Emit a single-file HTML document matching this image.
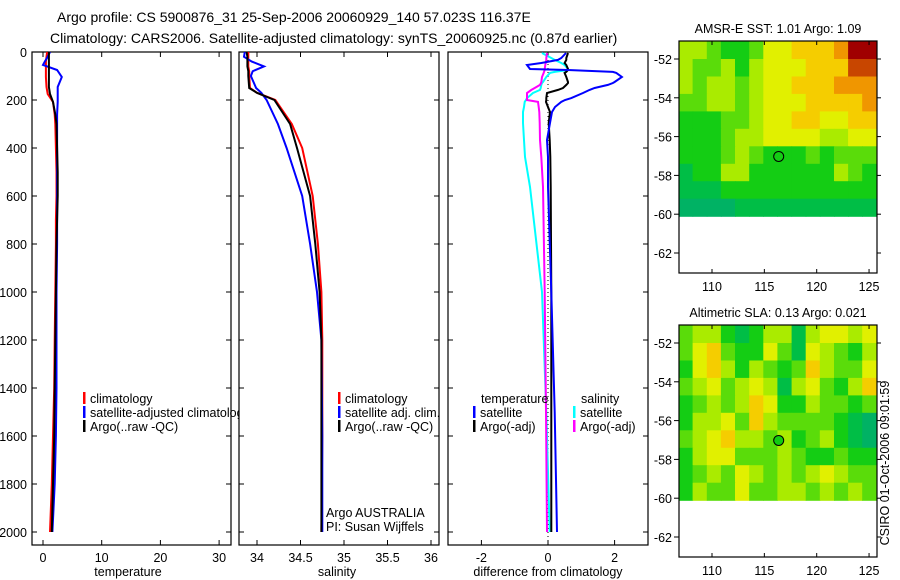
<!DOCTYPE html>
<html><head><meta charset="utf-8">
<style>
html,body{margin:0;padding:0;background:#fff;}
svg{display:block;font-family:"Liberation Sans",sans-serif;}
text{font-size:12.5px;fill:#000;}
</style></head>
<body>
<svg id="chart" width="900" height="580" viewBox="0 0 900 580" xmlns="http://www.w3.org/2000/svg">
<defs><clipPath id="clipT"><rect x="32" y="52" width="207" height="493"/></clipPath></defs>
<text x="57" y="22" style="font-size:14px">Argo profile: CS 5900876_31 25-Sep-2006 20060929_140 57.023S 116.37E</text>
<text x="50" y="43" style="font-size:14px">Climatology: CARS2006. Satellite-adjusted climatology: synTS_20060925.nc (0.87d earlier)</text>
<g id="g"></g>
</svg>
<script>
// ---- data ----
const tDepth = [0,20,40,54,75,104,146,175,208,260,300,400,500,600,700,800,1000,1200,1400,1600,1800,2000];
const tClim  = [0.7,0.6,0.5,0.5,0.5,0.5,0.6,0.8,1.7,2.0,2.1,2.2,2.3,2.3,2.2,2.2,2.1,2.0,1.9,1.7,1.5,1.2];
const tSat   = [1.2,0.8,0.3,0.0,2.4,3.2,2.5,2.5,2.5,2.4,2.4,2.4,2.4,2.4,2.4,2.4,2.3,2.3,2.3,2.2,2.0,1.6];
const tArgo  = [1.0,1.0,1.0,1.0,1.0,1.0,1.0,1.2,1.7,2.1,2.3,2.4,2.5,2.5,2.4,2.3,2.2,2.1,2.0,1.9,1.7,1.5];
const sDepth = [0,20,40,60,80,100,150,170,200,300,400,600,800,1000,1200,1600,2000];
const sClim  = [33.90,33.90,33.90,33.90,33.91,33.91,33.92,34.00,34.21,34.40,34.52,34.64,34.70,34.74,34.75,34.75,34.74];
const sSat   = [33.86,33.85,33.94,34.08,33.95,33.93,33.99,34.05,34.11,34.24,34.34,34.52,34.61,34.69,34.74,34.75,34.75];
const sArgo  = [33.88,33.89,33.89,33.89,33.90,33.90,33.91,34.00,34.20,34.38,34.46,34.61,34.67,34.72,34.74,34.74,34.74];
const dDepth = [4,25,33,46,54,71,75,83,87,104,125,129,137,150,158,171,192,200,208,229,250,296,367,437,562,1000,1500,2000];
const dTSat  = [0.54,0.4,0.3,-0.2,-0.63,-0.54,0.6,1.95,2.05,2.22,2.0,1.95,1.8,1.4,1.25,1.05,0.7,0.51,0.4,0.21,0.12,0.06,-0.03,0.0,0.0,0.1,0.2,0.27];
const dTArgo = [0.6,0.55,0.55,0.5,0.55,0.6,0.6,0.55,0.5,0.55,0.6,0.6,0.55,0.45,0.3,-0.03,-0.05,-0.05,-0.06,0.0,0.06,0.02,0.05,0.07,0.08,0.1,0.1,0.1];
const dSSat  = [-0.18,0.1,0.2,0.4,0.5,0.6,0.6,0.2,0.06,-0.05,-0.15,-0.18,-0.2,-0.22,-0.24,-0.45,-0.63,-0.66,-0.7,-0.72,-0.75,-0.75,-0.72,-0.69,-0.54,-0.18,-0.05,0.05];
const dSArgo = [-0.03,-0.05,-0.05,-0.07,-0.08,-0.1,-0.1,-0.12,-0.13,-0.18,-0.2,-0.21,-0.24,-0.4,-0.5,-0.63,-0.63,-0.63,-0.3,-0.28,-0.26,-0.25,-0.24,-0.2,-0.15,-0.1,-0.06,-0.03];
const depthTicks = [0,200,400,600,800,1000,1200,1400,1600,1800,2000];
const tTicks = [0,10,20,30];
const sTicks = [34,34.5,35,35.5,36];
const sTickLabels = ["34","34.5","35","35.5","36"];
const dTicks = [-2,0,2];
const lonTicks = [110,115,120,125];
const latTicks = [-52,-54,-56,-58,-60,-62];
const sstGrid = [
[5,5,4,3,3,4,6,6,7,7,7,8,10,10],
[5,4,4,5,3,5,6,6,6,7,7,7,9,9],
[5,4,5,5,4,5,6,6,7,7,7,8,8,8],
[4,4,5,5,4,5,6,6,6,7,7,7,7,8],
[3,3,3,4,4,5,6,6,7,7,6,6,7,7],
[3,3,3,4,5,5,6,6,6,6,5,5,6,6],
[3,3,3,4,5,4,3,3,3,4,3,4,4,4],
[2,3,3,5,5,3,3,3,3,3,3,5,4,3],
[2,2,2,3,3,3,3,3,3,3,3,3,3,3],
[1,1,1,1,2,2,2,2,2,2,2,2,2,2]];
const slaGrid = [
[4,5,5,3,2,3,5,5,2,5,6,6,5,6],
[4,6,7,4,3,3,6,4,2,6,5,4,3,5],
[3,6,7,5,3,5,4,3,4,7,5,4,4,6],
[4,5,6,4,5,6,5,2,5,6,4,3,5,7],
[3,4,5,4,5,7,6,3,3,5,4,4,3,4],
[3,5,5,6,4,7,5,4,4,4,4,3,2,1],
[4,5,6,7,5,5,4,5,3,4,5,3,2,1],
[3,5,6,6,4,4,4,5,4,3,3,4,3,3],
[3,4,5,4,6,5,4,5,4,5,6,5,4,4],
[3,5,4,4,6,4,4,5,5,4,5,4,5,4]];
const argoLon = 116.37, argoLat = -57.023;

const NS="http://www.w3.org/2000/svg";
const G=document.getElementById('g');
function mk(tag,attrs,parent){const e=document.createElementNS(NS,tag);for(const k in attrs)e.setAttribute(k,attrs[k]);(parent||G).appendChild(e);return e;}
function txt(s,x,y,anchor,parent){const e=mk('text',{x:x,y:y,'text-anchor':anchor||'start'},parent);e.textContent=s;return e;}

const yD=d=>52+d*0.24;
const xT=v=>43+v*5.87;
const xS=v=>257+(v-34)*87;
const xD=v=>548+v*33.3;
const panels=[{x0:32,x1:231,name:'temperature-panel'},{x0:239,x1:439,name:'salinity-panel'},{x0:448,x1:648,name:'difference-panel'}];

panels.forEach((p,i)=>{
  const f=mk('rect',{x:p.x0,y:52,width:p.x1-p.x0,height:493,fill:'none',stroke:'#000','stroke-width':1.2});
  
  
  depthTicks.forEach(d=>{
    mk('line',{x1:p.x0,x2:p.x0+5,y1:yD(d),y2:yD(d),stroke:'#000'});
    mk('line',{x1:p.x1,x2:p.x1-5,y1:yD(d),y2:yD(d),stroke:'#000'});
  });
});
depthTicks.forEach(d=>{
  const t=txt(String(d),27,yD(d)+5,'end');
  
  
});
function xticks(vals,labels,fx,name){
  vals.forEach((v,i)=>{
    const x=fx(v);
    mk('line',{x1:x,x2:x,y1:52,y2:57,stroke:'#000'});
    mk('line',{x1:x,x2:x,y1:545,y2:540,stroke:'#000'});
    const t=txt(labels[i],x,562,'middle');
    
    
  });
}
xticks(tTicks,tTicks.map(String),xT,'temperature-tick-label');
xticks(sTicks,sTickLabels,xS,'salinity-tick-label');
xticks(dTicks,dTicks.map(String),xD,'difference-tick-label');
[['temperature',128],['salinity',337],['difference from climatology',548]].forEach(a=>{
  const t=txt(a[0],a[1],576,'middle');
  
  
});

function line(depths,vals,fx,color,name,w){
  const pts=depths.map((d,i)=>fx(vals[i]).toFixed(1)+','+yD(d).toFixed(1)).join(' ');
  const e=mk('polyline',{points:pts,fill:'none',stroke:color,'stroke-width':w||2});
  
  
}
line(tDepth,tClim,xT,'#f00','temperature-climatology-line');
line(tDepth,tSat,xT,'#00f','temperature-satellite-line');
line(tDepth,tArgo,xT,'#000','temperature-argo-line');
line(sDepth,sClim,xS,'#f00','salinity-climatology-line');
line(sDepth,sSat,xS,'#00f','salinity-satellite-line');
line(sDepth,sArgo,xS,'#000','salinity-argo-line');
mk('line',{x1:xD(0),x2:xD(0),y1:52,y2:545,stroke:'#000','stroke-dasharray':'1,3'});
line(dDepth,dSSat,xD,'#0ff','salinity-satellite-diff-line');
line(dDepth,dSArgo,xD,'#f0f','salinity-argo-diff-line');
line(dDepth,dTArgo,xD,'#000','temperature-argo-diff-line');
line(dDepth,dTSat,xD,'#00f','temperature-satellite-diff-line');

function legend(x,y,color,label,name,clip){
  const g=mk('g',{});
  
  
  if(clip) g.setAttribute('clip-path','url(#clipT)');
  if(color) mk('rect',{x:x,y:y-11,width:2.5,height:12,fill:color},g);
  txt(label,x+7,y,'start',g);
}
legend(83,403,'#f00','climatology','legend-climatology');
legend(83,417,'#00f','satellite-adjusted climatology','legend-satellite',true);
legend(83,431,'#000','Argo(..raw -QC)','legend-argo');
legend(338,403,'#f00','climatology','legend-sal-climatology');
legend(338,417,'#00f','satellite adj. clim.','legend-sal-satellite');
legend(338,431,'#000','Argo(..raw -QC)','legend-sal-argo');
legend(474,403,null,'temperature','legend-temperature-header');
legend(473,417,'#00f','satellite','legend-temp-satellite');
legend(473,431,'#000','Argo(-adj)','legend-temp-argo');
legend(574,403,null,'salinity','legend-salinity-header');
legend(573,417,'#0ff','satellite','legend-sal-satellite-diff');
legend(573,431,'#f0f','Argo(-adj)','legend-sal-argo-diff');
txt('Argo AUSTRALIA',326,517);
txt('PI: Susan Wijffels',326,531);

function color(v){
  const stops=[[0,[0,165,130]],[2,[0,190,70]],[3,[20,205,20]],[4,[90,220,10]],[5,[170,235,0]],[6,[225,240,0]],[7,[245,205,0]],[8,[240,150,0]],[9,[200,70,0]],[10,[160,0,0]]];
  for(let i=1;i<stops.length;i++){if(v<=stops[i][0]){const a=stops[i-1],b=stops[i],t=(v-a[0])/(b[0]-a[0]);return 'rgb('+a[1].map((c,k)=>Math.round(c+(b[1][k]-c)*t)).join(',')+')';}}
  return 'rgb(160,0,0)';
}
function map(top,grid,title,name,filled){
  const xL=lon=>712+(lon-110)*10.47;
  const yL=lat=>top+18+(-52-lat)*19.4;
  const g=mk('g',{});
  
  
  const lon0=106.8,lat0=-51.1,dl=1.35,dp=0.9;
  grid.forEach((row,r)=>row.forEach((v,c)=>{
    const x=xL(lon0+c*dl),y=yL(lat0-r*dp);
    const cell=mk('rect',{x:x.toFixed(1),y:y.toFixed(1),width:(dl*10.47+0.6).toFixed(1),height:(dp*19.4+0.6).toFixed(1),fill:color(v)},g);
    
    
  }));
  mk('rect',{x:877,y:top,width:10,height:232,fill:'#fff'},g);
  mk('rect',{x:679,y:top,width:198,height:232,fill:'none',stroke:'#000','stroke-width':1.2},g);
  lonTicks.forEach(l=>{const x=xL(l);mk('line',{x1:x,x2:x,y1:top,y2:top+4,stroke:'#000'},g);mk('line',{x1:x,x2:x,y1:top+232,y2:top+228,stroke:'#000'},g);txt(String(l),x,top+250,'middle',g);});
  latTicks.forEach(l=>{const y=yL(l);mk('line',{x1:679,x2:674,y1:y,y2:y,stroke:'#000'},g);mk('line',{x1:877,x2:881,y1:y,y2:y,stroke:'#000'},g);txt(String(l),672,y+5,'end',g);});
  const t=txt(title,778,top-8,'middle',g);
  
  
  const c=mk('circle',{cx:xL(argoLon),cy:yL(argoLat),r:5,fill:filled?'#1c1':'none',stroke:'#000','stroke-width':1},g);
  
  
}
map(41,sstGrid,'AMSR-E SST: 1.01  Argo: 1.09','sst-map',false);
map(325,slaGrid,'Altimetric SLA: 0.13  Argo: 0.021','sla-map',true);
const cs=txt('CSIRO 01-Oct-2006 09:01:59',0,0,'middle');
cs.setAttribute('transform','translate(889,463) rotate(-90)');


</script>
</body></html>
